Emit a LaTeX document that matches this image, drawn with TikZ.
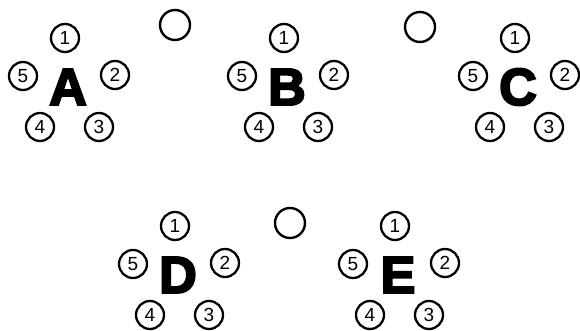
\documentclass[tikz,border=0pt]{standalone}
\usepackage{fontspec}
\setmainfont{Liberation Sans}
\newfontfamily\heavyfont[FakeBold=4]{Liberation Sans Bold}
\usetikzlibrary{positioning}

\tikzset{
    letter/.style={font=\heavyfont\fontsize{52}{52}\selectfont, inner sep=0pt},
    num/.style={draw, circle, line width=2.3pt, minimum size=28pt, inner sep=0pt, font=\fontsize{19}{19}\selectfont},
    ring/.style={draw, circle, line width=2.4pt, minimum size=30pt, inner sep=0pt},
}

\begin{document}
\begin{tikzpicture}[x=1pt, y=-1pt, on grid]
    \useasboundingbox (0,0) rectangle (580,331);

    % top row
    \node[letter] (A) at (68,87) {A};
    \node[num, above left=49pt and 3pt of A] (A1) {1};
    \node[num, above right=12pt and 47pt of A] (A2) {2};
    \node[num, below right=40pt and 31pt of A] (A3) {3};
    \node[num, below left=40pt and 28pt of A] (A4) {4};
    \node[num, above left=11pt and 45pt of A] (A5) {5};

    \node[letter] (B) at (287,87) {B};
    \node[num, above left=49pt and 3pt of B] (B1) {1};
    \node[num, above right=12pt and 47pt of B] (B2) {2};
    \node[num, below right=40pt and 31pt of B] (B3) {3};
    \node[num, below left=40pt and 28pt of B] (B4) {4};
    \node[num, above left=11pt and 45pt of B] (B5) {5};

    \node[letter] (C) at (518,87) {C};
    \node[num, above left=49pt and 3pt of C] (C1) {1};
    \node[num, above right=12pt and 47pt of C] (C2) {2};
    \node[num, below right=40pt and 31pt of C] (C3) {3};
    \node[num, below left=40pt and 28pt of C] (C4) {4};
    \node[num, above left=11pt and 45pt of C] (C5) {5};

    % bottom row
    \node[letter] (D) at (178,275) {D};
    \node[num, above left=49pt and 3pt of D] (D1) {1};
    \node[num, above right=12pt and 47pt of D] (D2) {2};
    \node[num, below right=40pt and 31pt of D] (D3) {3};
    \node[num, below left=40pt and 28pt of D] (D4) {4};
    \node[num, above left=11pt and 45pt of D] (D5) {5};

    \node[letter] (E) at (398,275) {E};
    \node[num, above left=49pt and 3pt of E] (E1) {1};
    \node[num, above right=12pt and 47pt of E] (E2) {2};
    \node[num, below right=40pt and 31pt of E] (E3) {3};
    \node[num, below left=40pt and 28pt of E] (E4) {4};
    \node[num, above left=11pt and 45pt of E] (E5) {5};

    % empty circles
    \node[ring] (o1) at (175,25) {};
    \node[ring] (o2) at (420,27) {};
    \node[ring] (o3) at (290,223) {};
\end{tikzpicture}
\end{document}
